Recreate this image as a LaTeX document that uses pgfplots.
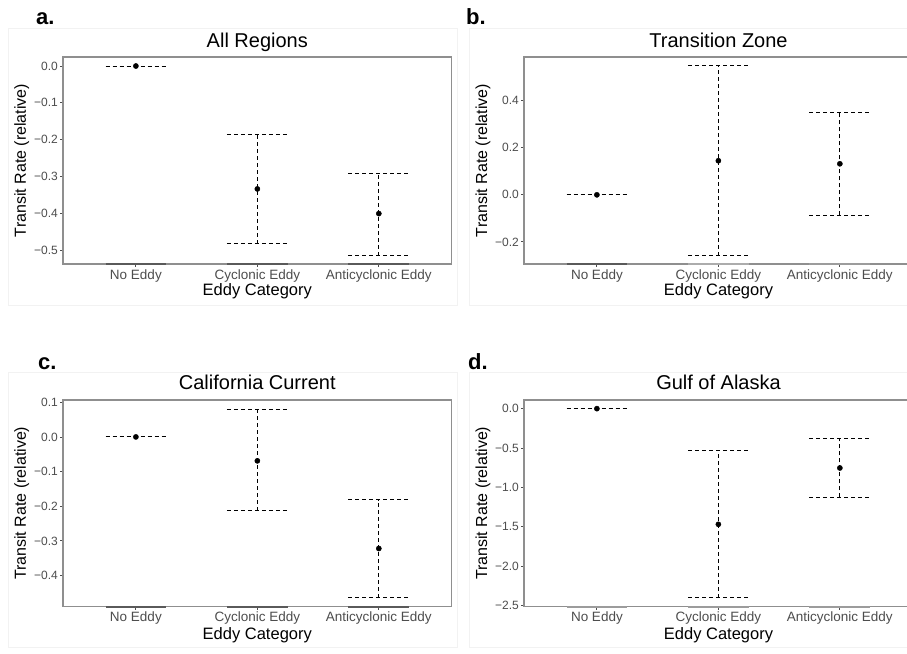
\documentclass[border=0pt]{standalone}
\usepackage{fontspec}
\setmainfont{Liberation Sans}
\usepackage{pgfplots}
\pgfplotsset{compat=1.18}
\definecolor{tickgray}{HTML}{4D4D4D}
\definecolor{framegray}{HTML}{8F8F8F}
\definecolor{basegray}{HTML}{5A5A5A}
\pgfplotsset{
  eddy/.style={
    scale only axis, anchor=south west,
    xmin=0.4, xmax=3.6,
    xtick={1,2,3},
    xticklabels={No Eddy, Cyclonic Eddy, Anticyclonic Eddy},
    xtick pos=bottom, ytick pos=left,
    tick align=outside, major tick length=3pt,
    tick style={tickgray, line width=0.8pt},
    axis line style={framegray, line width=1.1pt},
    x tick label style={font=\fontsize{13.5}{15}\selectfont, text=tickgray, inner sep=2.2pt},
    y tick label style={font=\fontsize{12}{14}\selectfont, text=tickgray, inner sep=2pt},
    clip=false,
  },
  cap/.style={black, line width=1pt, dash pattern=on 4pt off 3pt},
  pt/.style={only marks, mark=*, mark size=2.6pt, black},
  base/.style={basegray, line width=1.8pt},
}
\begin{document}
\begin{tikzpicture}
\path[use as bounding box] (0,0) rectangle (907pt,653pt);
\fill[white] (0,0) rectangle (907pt,653pt);
% faint panel frames
\draw[black!5, line width=0.8pt] (8pt,348pt) rectangle (457pt,625pt);
\draw[black!5, line width=0.8pt] (469pt,348pt) rectangle (912pt,625pt);
\draw[black!5, line width=0.8pt] (8pt,6pt) rectangle (457pt,281pt);
\draw[black!5, line width=0.8pt] (469pt,6pt) rectangle (912pt,281pt);

% ---------------- a. All Regions
\begin{axis}[eddy, at={(63pt,389pt)}, width=388.7pt, height=207pt,
  ymin=-0.538, ymax=0.0245,
  ytick={-0.5,-0.4,-0.3,-0.2,-0.1,0},
  yticklabels={−0.5,−0.4,−0.3,−0.2,−0.1,0.0}]
\addplot[base] coordinates {(0.75,-0.538) (1.25,-0.538)};
\addplot[base] coordinates {(1.75,-0.538) (2.25,-0.538)};
\addplot[base] coordinates {(2.75,-0.538) (3.25,-0.538)};
% No Eddy
\addplot[cap] coordinates {(0.75,0) (1.25,0)};
\addplot[pt] coordinates {(1,0)};
% Cyclonic
\addplot[cap] coordinates {(1.75,-0.187) (2.25,-0.187)};
\addplot[cap] coordinates {(1.75,-0.483) (2.25,-0.483)};
\addplot[cap] coordinates {(2,-0.483) (2,-0.187)};
\addplot[pt] coordinates {(2,-0.334)};
% Anticyclonic
\addplot[cap] coordinates {(2.75,-0.291) (3.25,-0.291)};
\addplot[cap] coordinates {(2.75,-0.515) (3.25,-0.515)};
\addplot[cap] coordinates {(3,-0.515) (3,-0.291)};
\addplot[pt] coordinates {(3,-0.401)};
\end{axis}

% ---------------- b. Transition Zone
\begin{axis}[eddy, at={(524pt,389pt)}, width=384pt, height=207pt, xmax=3.561,
  ymin=-0.294, ymax=0.586,
  ytick={-0.2,0,0.2,0.4},
  yticklabels={−0.2,0.0,0.2,0.4}]
\addplot[base] coordinates {(0.75,-0.294) (1.25,-0.294)};
\addplot[base, basegray!50] coordinates {(1.75,-0.294) (2.25,-0.294)};
\addplot[base, basegray!60] coordinates {(2.75,-0.294) (3.25,-0.294)};
\addplot[cap] coordinates {(0.75,0) (1.25,0)};
\addplot[pt] coordinates {(1,0)};
\addplot[cap] coordinates {(1.75,0.549) (2.25,0.549)};
\addplot[cap] coordinates {(1.75,-0.258) (2.25,-0.258)};
\addplot[cap] coordinates {(2,-0.258) (2,0.549)};
\addplot[pt] coordinates {(2,0.145)};
\addplot[cap] coordinates {(2.75,0.352) (3.25,0.352)};
\addplot[cap] coordinates {(2.75,-0.087) (3.25,-0.087)};
\addplot[cap] coordinates {(3,-0.087) (3,0.352)};
\addplot[pt] coordinates {(3,0.132)};
\end{axis}

% ---------------- c. California Current
\begin{axis}[eddy, at={(63pt,46.3pt)}, width=388.7pt, height=206.7pt,
  ymin=-0.490, ymax=0.1066,
  ytick={-0.4,-0.3,-0.2,-0.1,0,0.1},
  yticklabels={−0.4,−0.3,−0.2,−0.1,0.0,0.1}]
\addplot[base] coordinates {(0.75,-0.490) (1.25,-0.490)};
\addplot[base] coordinates {(1.75,-0.490) (2.25,-0.490)};
\addplot[base] coordinates {(2.75,-0.490) (3.25,-0.490)};
\addplot[cap] coordinates {(0.75,0) (1.25,0)};
\addplot[pt] coordinates {(1,0)};
\addplot[cap] coordinates {(1.75,0.078) (2.25,0.078)};
\addplot[cap] coordinates {(1.75,-0.213) (2.25,-0.213)};
\addplot[cap] coordinates {(2,-0.213) (2,0.078)};
\addplot[pt] coordinates {(2,-0.069)};
\addplot[cap] coordinates {(2.75,-0.181) (3.25,-0.181)};
\addplot[cap] coordinates {(2.75,-0.464) (3.25,-0.464)};
\addplot[cap] coordinates {(3,-0.464) (3,-0.181)};
\addplot[pt] coordinates {(3,-0.322)};
\end{axis}

% ---------------- d. Gulf of Alaska
\begin{axis}[eddy, at={(524pt,46.3pt)}, width=384pt, height=206.7pt, xmax=3.561,
  ymin=-2.517, ymax=0.11,
  ytick={-2.5,-2,-1.5,-1,-0.5,0},
  yticklabels={−2.5,−2.0,−1.5,−1.0,−0.5,0.0}]
\addplot[base, basegray!60] coordinates {(0.75,-2.517) (1.25,-2.517)};
\addplot[base, basegray!60] coordinates {(1.75,-2.517) (2.25,-2.517)};
\addplot[base, basegray!60] coordinates {(2.75,-2.517) (3.25,-2.517)};
\addplot[cap] coordinates {(0.75,0) (1.25,0)};
\addplot[pt] coordinates {(1,0)};
\addplot[cap] coordinates {(1.75,-0.530) (2.25,-0.530)};
\addplot[cap] coordinates {(1.75,-2.403) (2.25,-2.403)};
\addplot[cap] coordinates {(2,-2.403) (2,-0.530)};
\addplot[pt] coordinates {(2,-1.470)};
\addplot[cap] coordinates {(2.75,-0.377) (3.25,-0.377)};
\addplot[cap] coordinates {(2.75,-1.127) (3.25,-1.127)};
\addplot[cap] coordinates {(3,-1.127) (3,-0.377)};
\addplot[pt] coordinates {(3,-0.754)};
\end{axis}

% panel letters
\node[anchor=base west, font=\fontsize{22}{24}\selectfont\bfseries, inner sep=0pt] at (36pt,628pt) {a.};
\node[anchor=base west, font=\fontsize{22}{24}\selectfont\bfseries, inner sep=0pt] at (466pt,628pt) {b.};
\node[anchor=base west, font=\fontsize{22}{24}\selectfont\bfseries, inner sep=0pt] at (38pt,283pt) {c.};
\node[anchor=base west, font=\fontsize{22}{24}\selectfont\bfseries, inner sep=0pt] at (468pt,283pt) {d.};
% titles
\node[anchor=base, font=\fontsize{20}{22}\selectfont] at (257.3pt,605.3pt) {All Regions};
\node[anchor=base, font=\fontsize{20}{22}\selectfont] at (718.5pt,605.3pt) {Transition Zone};
\node[anchor=base, font=\fontsize{20}{22}\selectfont] at (257.3pt,263pt) {California Current};
\node[anchor=base, font=\fontsize{20}{22}\selectfont] at (718.5pt,263pt) {Gulf of Alaska};
% x labels
\node[anchor=base, font=\fontsize{16.5}{18}\selectfont] at (257.3pt,357pt) {Eddy Category};
\node[anchor=base, font=\fontsize{16.5}{18}\selectfont] at (718.5pt,357pt) {Eddy Category};
\node[anchor=base, font=\fontsize{16.5}{18}\selectfont] at (257.3pt,14pt) {Eddy Category};
\node[anchor=base, font=\fontsize{16.5}{18}\selectfont] at (718.5pt,14pt) {Eddy Category};
% y labels
\node[rotate=90, font=\fontsize{16}{18}\selectfont] at (21.7pt,492.5pt) {Transit Rate (relative)};
\node[rotate=90, font=\fontsize{16}{18}\selectfont] at (483pt,492.5pt) {Transit Rate (relative)};
\node[rotate=90, font=\fontsize{16}{18}\selectfont] at (21.7pt,149.7pt) {Transit Rate (relative)};
\node[rotate=90, font=\fontsize{16}{18}\selectfont] at (483pt,149.7pt) {Transit Rate (relative)};
\end{tikzpicture}
\end{document}
